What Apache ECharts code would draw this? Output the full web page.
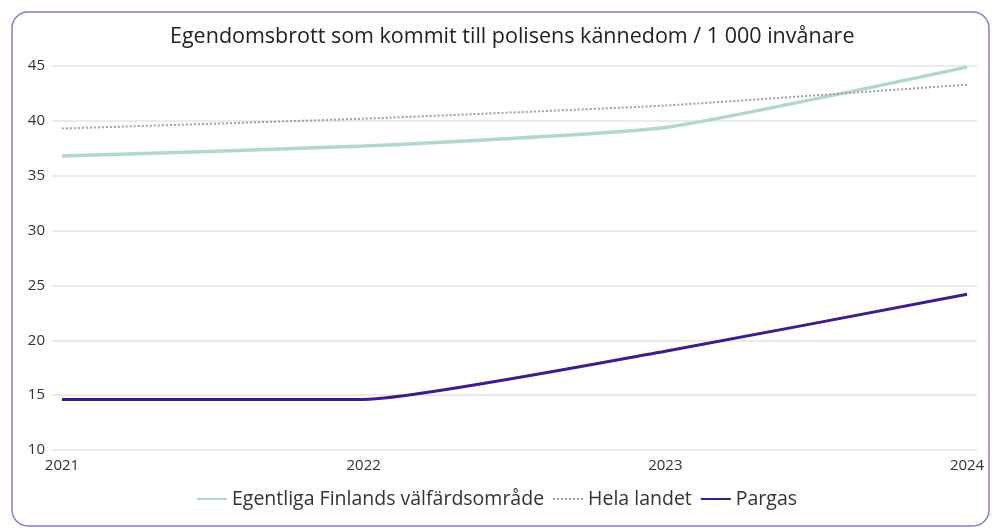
<!DOCTYPE html>
<html>
<head>
<meta charset="utf-8">
<script src="https://cdn.jsdelivr.net/npm/echarts@6/dist/echarts.min.js"></script>
<style>
    html, body { margin: 0; padding: 0; background: #fff; }
    #chart { width: 993px; height: 532px; }
</style>
</head>
<body>
<div id="chart"></div>
<script>
    // data
    const years = [2021, 2022, 2023, 2024];
    const seriesNames = ['Egentliga Finlands välfärdsområde', 'Hela landet', 'Pargas'];
    const egentliga = [36.8, 37.7, 39.4, 44.9];
    const helaLandet = [39.3, 40.2, 41.4, 43.3];
    const pargas = [14.6, 14.6, 19.0, 24.2];
    const yTicks = [10, 15, 20, 25, 30, 35, 40, 45];

    function pairs(vals) {
        return years.map(function (y, i) { return [y, vals[i]]; });
    }

    let myChart = echarts.init(document.getElementById('chart'));
    const font = '"Open Sans", "Noto Sans", sans-serif';

    let option = {
        animation: false,
        textStyle: { fontFamily: font },
        graphic: [{
            type: 'rect',
            shape: { x: 12, y: 12, width: 977, height: 514, r: 16 },
            style: { fill: 'none', stroke: '#8a7cc8', lineWidth: 1.5 },
            z: -1
        }],
        title: {
            text: 'Egendomsbrott som kommit till polisens kännedom / 1 000 invånare',
            left: 165,
            top: 21,
            textStyle: { fontSize: 21.5, fontWeight: 'normal', color: '#222', fontFamily: font }
        },
        legend: {
            top: 484,
            left: 'center',
            itemWidth: 30,
            itemHeight: 12,
            itemGap: 8,
            itemStyle: { opacity: 0 },
            textStyle: { fontSize: 19.5, color: '#333', fontFamily: font },
            data: seriesNames
        },
        grid: { left: 52, right: 16, top: 66, bottom: 82 },
        xAxis: {
            type: 'value',
            // small padding so the grid lines run past the first and last year
            min: years[0] - 0.033,
            max: years[years.length - 1] + 0.033,
            axisLine: { show: false },
            axisTick: { show: false },
            splitLine: { show: false },
            axisLabel: {
                color: '#333', fontSize: 15, margin: 8,
                customValues: years,
                formatter: function (v) { return String(v); }
            }
        },
        yAxis: {
            type: 'value',
            min: yTicks[0],
            max: yTicks[yTicks.length - 1],
            interval: 5,
            axisLine: { show: false },
            axisTick: { show: false },
            axisLabel: { color: '#333', fontSize: 15, margin: 7 },
            splitLine: { lineStyle: { color: '#e3e3e3', width: 1.5 } }
        },
        series: [
            {
                name: seriesNames[0],
                type: 'line',
                data: pairs(egentliga),
                smooth: 0.15,
                symbol: 'none',
                lineStyle: { color: '#b3d7ce', width: 3.5 },
                itemStyle: { color: '#b3d7ce' }
            },
            {
                name: seriesNames[1],
                type: 'line',
                data: pairs(helaLandet),
                smooth: 0.15,
                symbol: 'none',
                lineStyle: { color: '#a0a0a0', width: 2, type: [2, 2] },
                itemStyle: { color: '#a0a0a0' }
            },
            {
                name: seriesNames[2],
                type: 'line',
                data: pairs(pargas),
                smooth: 0.15,
                symbol: 'none',
                lineStyle: { color: '#3d1c8c', width: 3 },
                itemStyle: { color: '#3d1c8c' }
            }
        ]
    };

    myChart.setOption(option);
    window.addEventListener('resize', function () {
        myChart.resize();
    });
</script>
</body>
</html>
